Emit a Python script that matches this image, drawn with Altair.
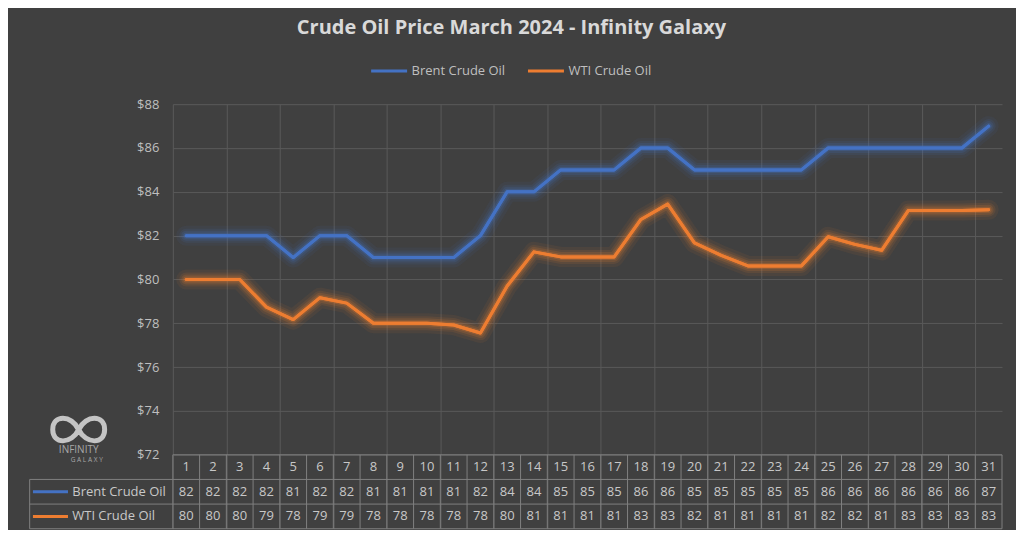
import altair as alt
import pandas as pd

# ---------------- data ----------------
days = list(range(1, 32))
brent = [82, 82, 82, 82, 81, 82, 82, 81, 81, 81, 81, 82, 84, 84, 85, 85,
         85, 86, 86, 85, 85, 85, 85, 85, 86, 86, 86, 86, 86, 86, 87]
wti = [80.0, 80.0, 80.0, 78.74, 78.17, 79.17, 78.92, 78.0, 78.0, 78.0, 77.92,
       77.56, 79.7, 81.26, 81.03, 81.03, 81.03, 82.74, 83.44, 81.67, 81.1,
       80.62, 80.62, 80.62, 81.95, 81.6, 81.33, 83.15, 83.15, 83.15, 83.18]
series = ["Brent Crude Oil", "WTI Crude Oil"]
colors = ["#4472C4", "#ED7D31"]
y_ticks = [72, 74, 76, 78, 80, 82, 84, 86, 88]
title_text = "Crude Oil Price March 2024 - Infinity Galaxy"
logo_name = "INFINITY"
logo_sub = "G A L A X Y"

# ---------------- layout constants ----------------
BG = "#404040"
GRID = "#595959"
TLINE = "#7f7f7f"
TXT = "#c8c8c8"
FONT = "Open Sans"
ROW_H = 1.125
Y_MIN = 72 - 3 * ROW_H
LEFT_EDGE = -4.853
KEY_X1, KEY_X2 = -4.73, -3.42
LABEL_X = -3.26
INF_PATH = ("M0,0 C0.28,-0.58 1,-0.58 1,0 C1,0.58 0.28,0.58 0,0 "
            "C-0.28,-0.58 -1,-0.58 -1,0 C-1,0.58 -0.28,0.58 0,0")

xs = alt.Scale(domain=[0.5, 31.5], nice=False, zero=False)
ys = alt.Scale(domain=[Y_MIN, 88], nice=False, zero=False)
cs = alt.Scale(domain=series, range=colors)

bounds = [d - 0.5 for d in days] + [days[-1] + 0.5]
row_tops = [72 - ROW_H, 72 - 2 * ROW_H, 72 - 3 * ROW_H]
header_y = 72 - ROW_H / 2
row_y = [72 - 1.5 * ROW_H, 72 - 2.5 * ROW_H]

# ---------------- frames ----------------
lines_df = pd.DataFrame(
    [{"day": d, "value": v, "series": series[0]} for d, v in zip(days, brent)]
    + [{"day": d, "value": v, "series": series[1]} for d, v in zip(days, wti)]
)
header_df = pd.DataFrame({"day": days, "y": header_y, "t": [str(d) for d in days]})
cells_df = pd.DataFrame(
    [{"day": d, "y": row_y[0], "v": v} for d, v in zip(days, brent)]
    + [{"day": d, "y": row_y[1], "v": v} for d, v in zip(days, wti)]
)
labels_df = pd.DataFrame({"series": series, "y": row_y, "x": LABEL_X,
                          "k1": KEY_X1, "k2": KEY_X2})
hl_df = pd.DataFrame(
    [{"x": 0.5, "x2": 31.5, "y": 72}]
    + [{"x": LEFT_EDGE, "x2": 31.5, "y": y} for y in row_tops]
)
vl_df = pd.DataFrame(
    [{"x": b, "y": 72, "y2": Y_MIN} for b in bounds]
    + [{"x": LEFT_EDGE, "y": row_tops[0], "y2": Y_MIN}]
)
logo_txt_df = pd.DataFrame({
    "t": [logo_name, logo_sub],
    "x": [-3.02, -2.72],
    "y": [72.2, 71.78],
    "s": [10, 6.5],
})
logo_sym_df = pd.DataFrame({"x": [-3.02], "y": [73.15]})


def X(f, axis=None):
    if axis is None:
        return alt.X(f, type="quantitative", scale=xs, title=None)
    return alt.X(f, type="quantitative", scale=xs, axis=axis, title=None)


def Y(f, axis=None):
    if axis is None:
        return alt.Y(f, type="quantitative", scale=ys, title=None)
    return alt.Y(f, type="quantitative", scale=ys, axis=axis, title=None)


x_axis = alt.Axis(values=bounds, grid=True, gridColor=GRID, gridWidth=1,
                  labels=False, ticks=False, domain=False)
y_axis = alt.Axis(values=y_ticks, grid=True, gridColor=GRID, gridWidth=1,
                  labelExpr="'$' + datum.value", labelFont=FONT,
                  labelFontSize=13, labelColor="#bfbfbf", labelPadding=14,
                  ticks=False, domain=False)

base = alt.Chart(lines_df)
layers = []
# guide layer (axes + legend)
layers.append(
    base.mark_line(strokeWidth=3, strokeJoin="round", strokeCap="round").encode(
        x=X("day", x_axis), y=Y("value", y_axis),
        color=alt.Color("series:N", scale=cs, legend=alt.Legend(
            orient="none", legendX=197, legendY=-53, direction="horizontal",
            title=None, symbolType="stroke", symbolSize=1296,
            symbolStrokeWidth=3, labelFont=FONT, labelFontSize=13,
            labelColor="#bfbfbf", columnPadding=16, labelOffset=3)),
    )
)
for w, o in [(20, 0.07), (14, 0.1), (10, 0.15), (6, 0.25)]:
    layers.append(
        base.mark_line(strokeWidth=w, opacity=o, strokeJoin="round", strokeCap="round")
        .encode(x=X("day"), y=Y("value"),
                color=alt.Color("series:N", scale=cs, legend=None))
    )
layers.append(
    base.mark_line(strokeWidth=3, strokeJoin="round", strokeCap="round").encode(
        x=X("day"), y=Y("value"),
        color=alt.Color("series:N", scale=cs, legend=None))
)

# table lines
layers.append(alt.Chart(hl_df).mark_rule(color=TLINE, strokeWidth=1).encode(
    x=X("x"), x2="x2", y=Y("y")))
layers.append(alt.Chart(vl_df).mark_rule(color=TLINE, strokeWidth=1).encode(
    x=X("x"), y=Y("y"), y2="y2"))

# table text
layers.append(alt.Chart(header_df).mark_text(font=FONT, fontSize=13, color=TXT,
                                             baseline="middle").encode(
    x=X("day"), y=Y("y"), text="t:N"))
layers.append(alt.Chart(cells_df).mark_text(font=FONT, fontSize=13, color=TXT,
                                            baseline="middle").encode(
    x=X("day"), y=Y("y"), text=alt.Text("v:Q", format=".0f")))
layers.append(alt.Chart(labels_df).mark_text(font=FONT, fontSize=13, color=TXT,
                                             align="left", baseline="middle").encode(
    x=X("x"), y=Y("y"), text="series:N"))
layers.append(alt.Chart(labels_df).mark_rule(strokeWidth=3).encode(
    x=X("k1"), x2="k2", y=Y("y"),
    color=alt.Color("series:N", scale=cs, legend=None)))

# logo
layers.append(alt.Chart(logo_sym_df).mark_point(
    shape=INF_PATH, size=2700, filled=False, stroke="#c4c4c4", strokeWidth=5,
    opacity=1).encode(x=X("x"), y=Y("y")))
layers.append(alt.Chart(logo_txt_df).mark_text(font=FONT, color="#a8a8a8",
                                               baseline="middle").encode(
    x=X("x"), y=Y("y"), text="t:N",
    size=alt.Size("s:Q", scale=None, legend=None)))

chart = alt.layer(*layers).properties(
    width=830, height=425,
    padding={"left": 21, "top": 10, "right": 13, "bottom": 0},
    background=BG,
    title=alt.TitleParams(title_text, font=FONT, fontSize=20, fontWeight="bold",
                          color="#d9d9d9", anchor="middle", frame="group",
                          dx=-76, offset=13),
).configure_view(stroke=None)

chart.save("out.html", embed_options={"renderer": "svg", "actions": False})
